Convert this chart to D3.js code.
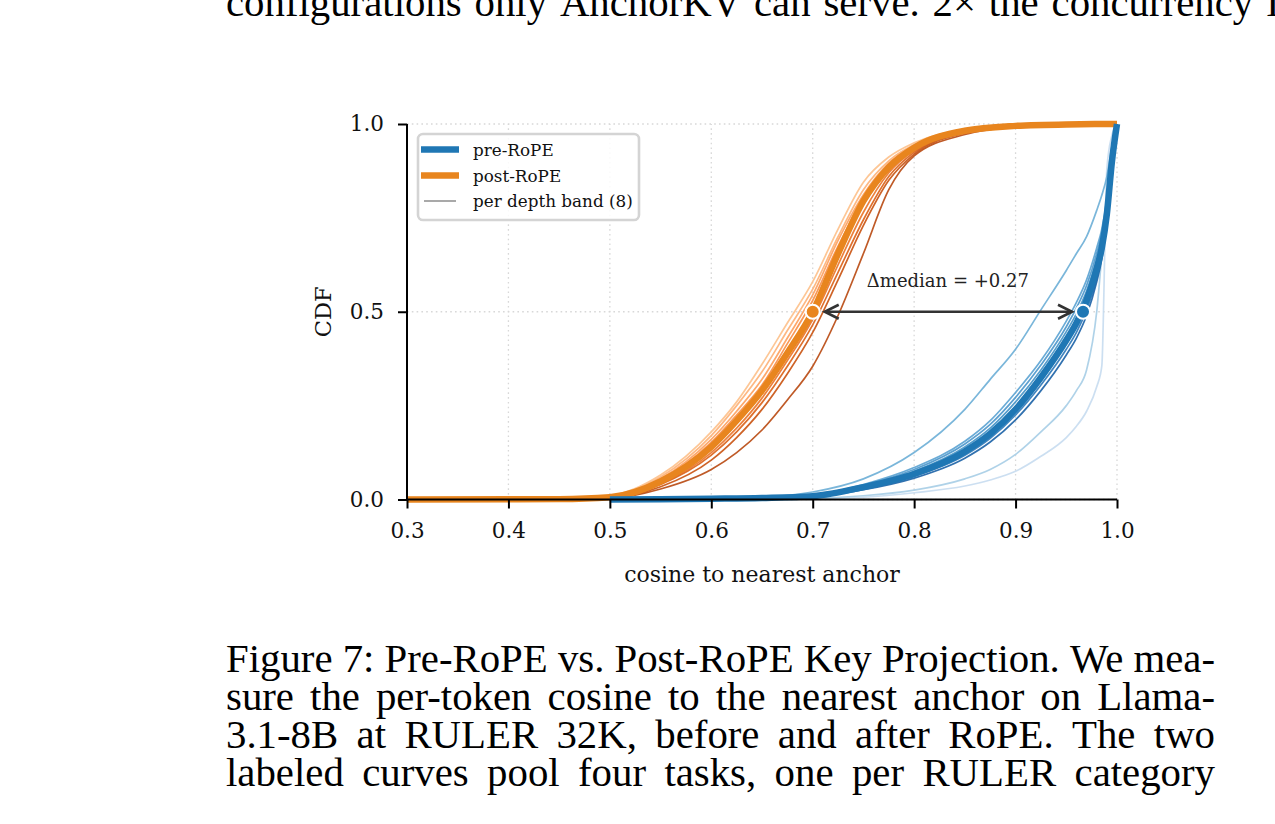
<!DOCTYPE html>
<html>
<head>
<meta charset="utf-8">
<script src="https://cdn.jsdelivr.net/npm/d3@7"></script>
<style>
  html, body { margin: 0; padding: 0; background: #ffffff; }
  svg { display: block; }
</style>
</head>
<body>
<script>
// ---------------- DATA ----------------
const xTicks = [0.3, 0.4, 0.5, 0.6, 0.7, 0.8, 0.9, 1.0];
const yTicks = [0.0, 0.5, 1.0];

// post-RoPE (orange) sample grid and CDF values
const postX = [0.30, 0.45, 0.50, 0.55, 0.60, 0.625, 0.65, 0.675, 0.70, 0.725, 0.75, 0.775, 0.80, 0.85, 0.90, 0.95, 1.00];
const postMain = [0, 0.001, 0.006, 0.048, 0.14, 0.21, 0.29, 0.39, 0.50, 0.655, 0.795, 0.885, 0.937, 0.982, 0.995, 0.999, 1];
const postBand1 = [0, 0.002, 0.010, 0.065, 0.18, 0.26, 0.36, 0.47, 0.58, 0.72, 0.845, 0.912, 0.95, 0.985, 0.996, 0.999, 1];
const postBand2 = [0, 0.002, 0.009, 0.060, 0.17, 0.25, 0.34, 0.45, 0.56, 0.70, 0.825, 0.902, 0.945, 0.984, 0.996, 0.999, 1];
const postBand3 = [0, 0.001, 0.008, 0.055, 0.16, 0.235, 0.32, 0.43, 0.545, 0.69, 0.812, 0.896, 0.942, 0.983, 0.995, 0.999, 1];
const postBand4 = [0, 0.001, 0.007, 0.052, 0.152, 0.225, 0.305, 0.415, 0.53, 0.675, 0.80, 0.89, 0.94, 0.982, 0.995, 0.999, 1];
const postBand5 = [0, 0.001, 0.005, 0.042, 0.125, 0.19, 0.27, 0.37, 0.48, 0.625, 0.765, 0.87, 0.93, 0.98, 0.995, 0.999, 1];
const postBand6 = [0, 0.001, 0.005, 0.040, 0.118, 0.18, 0.258, 0.355, 0.465, 0.605, 0.745, 0.86, 0.925, 0.978, 0.994, 0.999, 1];
const postBand7 = [0, 0.001, 0.004, 0.034, 0.105, 0.165, 0.24, 0.335, 0.445, 0.585, 0.73, 0.85, 0.92, 0.976, 0.994, 0.999, 1];
const postBand8 = [0, 0.001, 0.003, 0.028, 0.080, 0.125, 0.185, 0.265, 0.355, 0.49, 0.655, 0.825, 0.915, 0.972, 0.993, 0.999, 1];

// pre-RoPE (blue) sample grid and CDF values
const preX = [0.50, 0.55, 0.60, 0.65, 0.70, 0.75, 0.80, 0.85, 0.875, 0.90, 0.925, 0.95, 0.96, 0.97, 0.98, 0.985, 0.99, 0.995, 1.0];
const preMain  = [0, 0.0005, 0.002, 0.004, 0.009, 0.033, 0.068, 0.128, 0.175, 0.24, 0.325, 0.424, 0.47, 0.53, 0.615, 0.67, 0.76, 0.90, 1.0];
const preBand1 = [0, 0, 0, 0.0005, 0.002, 0.006, 0.018, 0.036, 0.052, 0.075, 0.115, 0.165, 0.195, 0.235, 0.30, 0.355, 0.88, 0.97, 1.0];
const preBand2 = [0, 0, 0.0005, 0.001, 0.003, 0.010, 0.025, 0.055, 0.08, 0.12, 0.18, 0.25, 0.29, 0.345, 0.50, 0.65, 0.80, 0.93, 1.0];
const preBand3 = [0, 0.0005, 0.002, 0.006, 0.020, 0.055, 0.125, 0.24, 0.32, 0.40, 0.505, 0.61, 0.655, 0.70, 0.77, 0.81, 0.86, 0.94, 1.0];
const preBand4 = [0, 0.0005, 0.002, 0.005, 0.012, 0.040, 0.085, 0.155, 0.21, 0.285, 0.37, 0.475, 0.525, 0.585, 0.67, 0.72, 0.80, 0.92, 1.0];
const preBand5 = [0, 0.0005, 0.002, 0.005, 0.011, 0.038, 0.080, 0.148, 0.20, 0.272, 0.358, 0.46, 0.51, 0.57, 0.655, 0.71, 0.79, 0.915, 1.0];
const preBand6 = [0, 0.0005, 0.002, 0.0045, 0.010, 0.036, 0.075, 0.14, 0.19, 0.26, 0.345, 0.447, 0.495, 0.555, 0.64, 0.695, 0.78, 0.91, 1.0];
const preBand7 = [0, 0.0003, 0.0015, 0.0035, 0.008, 0.029, 0.062, 0.118, 0.163, 0.225, 0.305, 0.40, 0.445, 0.505, 0.59, 0.65, 0.745, 0.89, 1.0];
const preBand8 = [0, 0.0003, 0.001, 0.003, 0.007, 0.026, 0.057, 0.11, 0.153, 0.212, 0.29, 0.385, 0.43, 0.49, 0.58, 0.64, 0.735, 0.885, 1.0];

const postMedian = 0.70;
const preMedian = 0.9665;
const medianLevel = 0.5;
const deltaLabel = "\u0394median = +0.27";

const legendLabels = ["pre-RoPE", "post-RoPE", "per depth band (8)"];
const xLabel = "cosine to nearest anchor";
const yLabel = "CDF";

const topLineWords = ["configurations", "only", "AnchorKV", "can", "serve.", "2\u00d7", "the", "concurrency", "I"];
const captionLines = [
  "Figure 7: Pre-RoPE vs. Post-RoPE Key Projection. We mea-",
  "sure the per-token cosine to the nearest anchor on Llama-",
  "3.1-8B at RULER 32K, before and after RoPE. The two",
  "labeled curves pool four tasks, one per RULER category"
];

// ---------------- STYLE ----------------
const BLUE = "#1f77b4", ORANGE = "#e8851e";
const postBandColors = ["#fdc08a", "#fdb075", "#fd9f5c", "#f88d45", "#ea7328", "#db6016", "#c9520f", "#b8480f"];
const preBandColors  = ["#c6dbef", "#a6cde6", "#6baed6", "#5aa2d2", "#4a96cb", "#4292c6", "#2c78b8", "#1b62a6"];
const chartFont = "DejaVu Serif";
const pageFont = "Liberation Serif";

const W = 1275, H = 824;
const svg = d3.select("body").append("svg").attr("width", W).attr("height", H);
svg.append("rect").attr("width", W).attr("height", H).attr("fill", "#fff");

const x = d3.scaleLinear().domain([0.3, 1.0]).range([407, 1117]);
const y = d3.scaleLinear().domain([0, 1]).range([499.5, 124]);

// grid
const grid = svg.append("g");
grid.selectAll("line.vx").data(xTicks).join("line")
  .attr("x1", d => x(d)).attr("x2", d => x(d)).attr("y1", y(0)).attr("y2", y(1))
  .attr("stroke", "#d8d8d8").attr("stroke-width", 1.3).attr("stroke-dasharray", "1.6,3.2");
grid.selectAll("line.hy").data(yTicks).join("line")
  .attr("y1", d => y(d)).attr("y2", d => y(d)).attr("x1", x(0.3)).attr("x2", x(1.0))
  .attr("stroke", "#d8d8d8").attr("stroke-width", 1.3).attr("stroke-dasharray", "1.6,3.2");

const line = d3.line().curve(d3.curveMonotoneX);
function drawSeries(xs, ys, color, width, opacity) {
  svg.append("path")
    .attr("d", line(xs.map((v, i) => [x(v), y(ys[i])])))
    .attr("fill", "none").attr("stroke", color).attr("stroke-width", width)
    .attr("stroke-opacity", opacity).attr("stroke-linejoin", "round").attr("stroke-linecap", "butt");
}

const postBands = [postBand1, postBand2, postBand3, postBand4, postBand5, postBand6, postBand7, postBand8];
const preBands = [preBand1, preBand2, preBand3, preBand4, preBand5, preBand6, preBand7, preBand8];

postBands.forEach((b, i) => drawSeries(postX, b, postBandColors[i], 1.7, 0.9));
preBands.forEach((b, i) => drawSeries(preX, b, preBandColors[i], 1.7, 0.9));
drawSeries(postX, postMain, ORANGE, 6.5, 1);
drawSeries(preX, preMain, BLUE, 6.5, 1);

// median arrow
const ay = y(medianLevel);
const ax1 = x(postMedian) + 12, ax2 = x(preMedian) - 11;
const arrowColor = "#333333";
svg.append("line").attr("x1", ax1).attr("x2", ax2).attr("y1", ay).attr("y2", ay)
  .attr("stroke", arrowColor).attr("stroke-width", 2.6);
svg.append("path").attr("d", `M${ax1 + 14},${ay - 7} L${ax1},${ay} L${ax1 + 14},${ay + 7}`)
  .attr("fill", "none").attr("stroke", arrowColor).attr("stroke-width", 2.6).attr("stroke-linejoin", "miter");
svg.append("path").attr("d", `M${ax2 - 14},${ay - 7} L${ax2},${ay} L${ax2 - 14},${ay + 7}`)
  .attr("fill", "none").attr("stroke", arrowColor).attr("stroke-width", 2.6).attr("stroke-linejoin", "miter");
svg.append("text").attr("x", (x(postMedian) + x(preMedian)) / 2).attr("y", 287)
  .attr("text-anchor", "middle").attr("font-family", chartFont).attr("font-size", 18)
  .attr("fill", "#222").text(deltaLabel);

// median dots
svg.append("circle").attr("cx", x(postMedian)).attr("cy", ay).attr("r", 7)
  .attr("fill", ORANGE).attr("stroke", "#fff").attr("stroke-width", 2);
svg.append("circle").attr("cx", x(preMedian)).attr("cy", ay).attr("r", 7)
  .attr("fill", BLUE).attr("stroke", "#fff").attr("stroke-width", 2);

// axes
const fmt = d3.format(".1f");
const gx = svg.append("g").attr("transform", `translate(0,${y(0)})`)
  .call(d3.axisBottom(x).tickValues(xTicks).tickFormat(fmt).tickSize(9).tickSizeOuter(0).tickPadding(14));
const gy = svg.append("g").attr("transform", `translate(${x(0.3)},0)`)
  .call(d3.axisLeft(y).tickValues(yTicks).tickFormat(fmt).tickSize(9).tickSizeOuter(0).tickPadding(14));
[gx, gy].forEach(g => {
  g.select(".domain").attr("stroke", "#000").attr("stroke-width", 2);
  g.selectAll(".tick line").attr("stroke", "#000").attr("stroke-width", 2);
  g.selectAll(".tick text").attr("font-family", chartFont).attr("font-size", 21.5).attr("fill", "#111");
});
gx.select(".domain").attr("d", `M${x(0.3)},0H${x(1.0)}`);
gy.select(".domain").attr("d", `M0,${y(0)}V${y(1)}`);

svg.append("text").attr("x", (x(0.3) + x(1.0)) / 2).attr("y", 582)
  .attr("text-anchor", "middle").attr("font-family", chartFont).attr("font-size", 22)
  .attr("fill", "#111").text(xLabel);
svg.append("text").attr("transform", `translate(331,${y(0.5)}) rotate(-90)`)
  .attr("text-anchor", "middle").attr("font-family", chartFont).attr("font-size", 22.5)
  .attr("fill", "#111").text(yLabel);

// legend
const lg = svg.append("g");
lg.append("rect").attr("x", 418).attr("y", 134).attr("width", 221).attr("height", 86)
  .attr("rx", 5).attr("fill", "#fff").attr("fill-opacity", 0.85)
  .attr("stroke", "#d4d4d4").attr("stroke-width", 2.6);
const legendStyles = [
  { color: BLUE, w: 6.7, x1: 421, x2: 459 },
  { color: ORANGE, w: 6.7, x1: 421, x2: 459 },
  { color: "#9a9a9a", w: 1.7, x1: 424, x2: 456 }
];
const legendY = [149.5, 175.5, 201];
legendLabels.forEach((lab, i) => {
  const s = legendStyles[i];
  lg.append("line").attr("x1", s.x1).attr("x2", s.x2).attr("y1", legendY[i]).attr("y2", legendY[i])
    .attr("stroke", s.color).attr("stroke-width", s.w);
  lg.append("text").attr("x", 473).attr("y", legendY[i] + 6)
    .attr("font-family", chartFont).attr("font-size", 16.8).attr("fill", "#111").text(lab);
});

// surrounding page text: font size chosen so the tight first caption line fills the column
const colLeft = 226, colRight = 1215;
function measure(str, size) {
  const t = svg.append("text").attr("font-family", pageFont).attr("font-size", size).text(str);
  const w = t.node().getComputedTextLength();
  t.remove();
  return w;
}
const s1 = 30 * (colRight - colLeft) / measure(captionLines[0], 30);
const s2 = 30 * (colRight - colLeft) / measure(captionLines[1], 30);
const pageSize = Math.min(s1, s2);

function placeWords(words, x0, yb, size, lastX, rightEdge) {
  const g = svg.append("g");
  const nodes = words.map(w => g.append("text").attr("y", yb).attr("font-family", pageFont)
    .attr("font-size", size).attr("fill", "#000").text(w));
  const widths = nodes.map(n => n.node().getComputedTextLength());
  let gap;
  if (lastX != null) {
    gap = (lastX - x0 - d3.sum(widths.slice(0, -1))) / (words.length - 1);
  } else {
    gap = (rightEdge - x0 - d3.sum(widths)) / (words.length - 1);
  }
  let cx = x0;
  nodes.forEach((n, i) => { n.attr("x", cx); cx += widths[i] + gap; });
}
placeWords(topLineWords, colLeft, 16, pageSize, 1266, null);
const capBase = [672, 710, 748, 786];
captionLines.forEach((l, i) => placeWords(l.split(" "), colLeft, capBase[i], pageSize, null, colRight));
</script>
</body>
</html>
